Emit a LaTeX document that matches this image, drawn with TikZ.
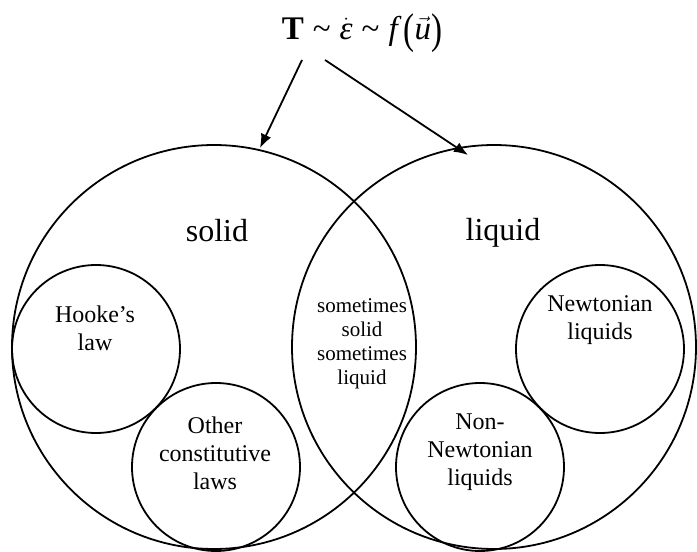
\documentclass[tikz,border=0pt]{standalone}
\usepackage{fontspec}
\setmainfont{Liberation Serif}
\usetikzlibrary{arrows.meta}
\newcommand{\tsp}{\hspace{9pt}}
\tikzset{
  bigc/.style={circle, draw, line width=1.8pt, minimum size=404pt, inner sep=0pt},
  smallc/.style={circle, draw, line width=1.8pt, minimum size=168pt, inner sep=0pt},
  lbl/.style={align=center, font=\fontsize{24}{28}\selectfont, inner sep=0pt},
  midlbl/.style={align=center, font=\fontsize{21}{24}\selectfont, inner sep=0pt},
  biglbl/.style={font=\fontsize{32}{36}\selectfont, inner sep=0pt},
  arr/.style={line width=1.8pt, -{Latex[length=14pt,width=11pt]}}
}
\begin{document}
\begin{tikzpicture}[x=1pt,y=-1pt]
\useasboundingbox (0,0) rectangle (697,552);
\node[bigc] (L) at (214,347) {};
\node[bigc] (R) at (494,347) {};
\node[smallc] (hooke) at (96,349) {};
\node[smallc] (other) at (216,467) {};
\node[smallc] (newt) at (600,349) {};
\node[smallc] (nonnewt) at (480,467) {};
\node[biglbl] (solid) at (217,231) {solid};
\node[biglbl] (liquid) at (503,233) {liquid};
\node[lbl] (hookeT) at (95,328) {Hooke’s\\law};
\node[lbl] (otherT) at (215,453) {Other\\constitutive\\laws};
\node[lbl] (newtT) at (600,320) {Newtonian\\liquids};
\node[lbl] (nonnewtT) at (480,452) {Non-\\Newtonian\\liquids};
\node[midlbl] (midT) at (362,344) {sometimes\\solid\\sometimes\\liquid};
\node[inner sep=0pt, font=\fontsize{33}{36}\selectfont] (title) at (362,33)
  {{\bfseries T}\tsp\char`\~\tsp$\dot{\hbox{\itshape ε}}$\tsp\char`\~\tsp{\itshape f}\hspace{6pt}\raisebox{-0.12em}{\scalebox{1}[1.3]{(}}$\vec{\hbox{\itshape u}}$\raisebox{-0.12em}{\scalebox{1}[1.3]{)}}};
\coordinate (ls) at (302,60);
\coordinate (rs) at (325,60);
\coordinate (lt) at (260,148);
\coordinate (rt) at (468,155);
\draw[arr] (ls) -- (lt);
\draw[arr] (rs) -- (rt);
\end{tikzpicture}
\end{document}
